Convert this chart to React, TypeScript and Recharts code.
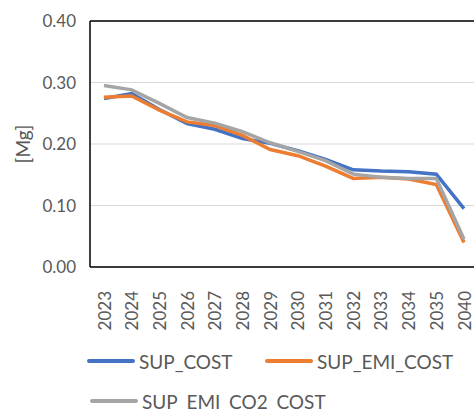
import React from 'react';
import { LineChart, Line, XAxis, YAxis, CartesianGrid, ReferenceLine } from 'recharts';

const years = ['2023', '2024', '2025', '2026', '2027', '2028', '2029', '2030', '2031', '2032', '2033', '2034', '2035', '2040'];
const supCost = [0.274, 0.282, 0.256, 0.233, 0.224, 0.209, 0.201, 0.189, 0.175, 0.158, 0.156, 0.155, 0.151, 0.095];
const supEmiCost = [0.276, 0.278, 0.255, 0.236, 0.230, 0.214, 0.191, 0.181, 0.164, 0.144, 0.146, 0.143, 0.134, 0.040];
const supEmiCo2Cost = [0.295, 0.288, 0.266, 0.243, 0.234, 0.220, 0.202, 0.188, 0.173, 0.151, 0.146, 0.144, 0.144, 0.045];
const yTicks = [0, 0.1, 0.2, 0.3, 0.4];

const series = [
  { key: 'SUP_COST', values: supCost, color: '#4472C4' },
  { key: 'SUP_EMI_COST', values: supEmiCost, color: '#ED7D31' },
  { key: 'SUP_EMI_CO2_COST', values: supEmiCo2Cost, color: '#A5A5A5' },
];

const data = years.map((year, i) => {
  const row: any = { year };
  series.forEach(s => {
    row[s.key] = s.values[i];
  });
  return row;
});

const FONT = 'Lato, "Open Sans", sans-serif';
const TEXT = '#595959';

const YearTick = ({ x, y, payload }: any) => (
  <text
    x={0}
    y={0}
    transform={`translate(${x},${y + 16}) rotate(-90)`}
    textAnchor="end"
    dominantBaseline="central"
    fontSize={17}
    fontFamily={FONT}
    fill={TEXT}
  >
    {payload.value}
  </text>
);

const UnitLabel = ({ viewBox }: any) => {
  const cy = viewBox.y + viewBox.height / 2;
  return (
    <text
      x={0}
      y={0}
      transform={`translate(22,${cy}) rotate(-90)`}
      textAnchor="middle"
      dominantBaseline="central"
      fontSize={19}
      fontFamily={FONT}
      fill={TEXT}
    >
      [Mg]
    </text>
  );
};

const legendSpots = [
  { left: 87, top: 350 },
  { left: 265, top: 350 },
  { left: 90, top: 390 },
];

export default function App() {
  return (
    <div style={{ position: 'fixed', left: 0, top: 0, width: 474, height: 410, overflow: 'hidden', background: '#fff' }}>
      <LineChart
        width={480}
        height={410}
        data={data}
        margin={{ top: 21, right: 2, bottom: 83, left: 0 }}
      >
        <CartesianGrid vertical={false} stroke="#D9D9D9" strokeWidth={1} />
        <XAxis
          dataKey="year"
          height={60}
          interval={0}
          padding={{ left: 14, right: 14 }}
          tickLine={false}
          axisLine={{ stroke: '#000', strokeWidth: 1.5 }}
          tick={<YearTick />}
        />
        <YAxis
          width={90}
          domain={[0, 0.4]}
          ticks={yTicks}
          tickFormatter={(v: number) => v.toFixed(2)}
          tickLine={false}
          tickMargin={8}
          axisLine={{ stroke: '#000', strokeWidth: 1.5 }}
          tick={{ fontSize: 17, fontFamily: FONT, fill: TEXT }}
          label={<UnitLabel />}
        />
        <ReferenceLine y={0.4} stroke="#000" strokeWidth={1.5} />
        {series.map(s => (
          <Line
            key={s.key}
            type="linear"
            dataKey={s.key}
            stroke={s.color}
            strokeWidth={3.5}
            dot={false}
            isAnimationActive={false}
          />
        ))}
      </LineChart>
      {series.map((s, i) => (
        <div
          key={s.key}
          style={{
            position: 'absolute',
            left: legendSpots[i].left,
            top: legendSpots[i].top,
            height: 22,
            display: 'flex',
            alignItems: 'center',
            fontFamily: FONT,
            fontSize: 19,
            color: TEXT,
            whiteSpace: 'nowrap',
          }}
        >
          <span style={{ display: 'inline-block', width: 48, height: 4, borderRadius: 2, background: s.color, marginRight: 4 }} />
          {s.key}
        </div>
      ))}
    </div>
  );
}
